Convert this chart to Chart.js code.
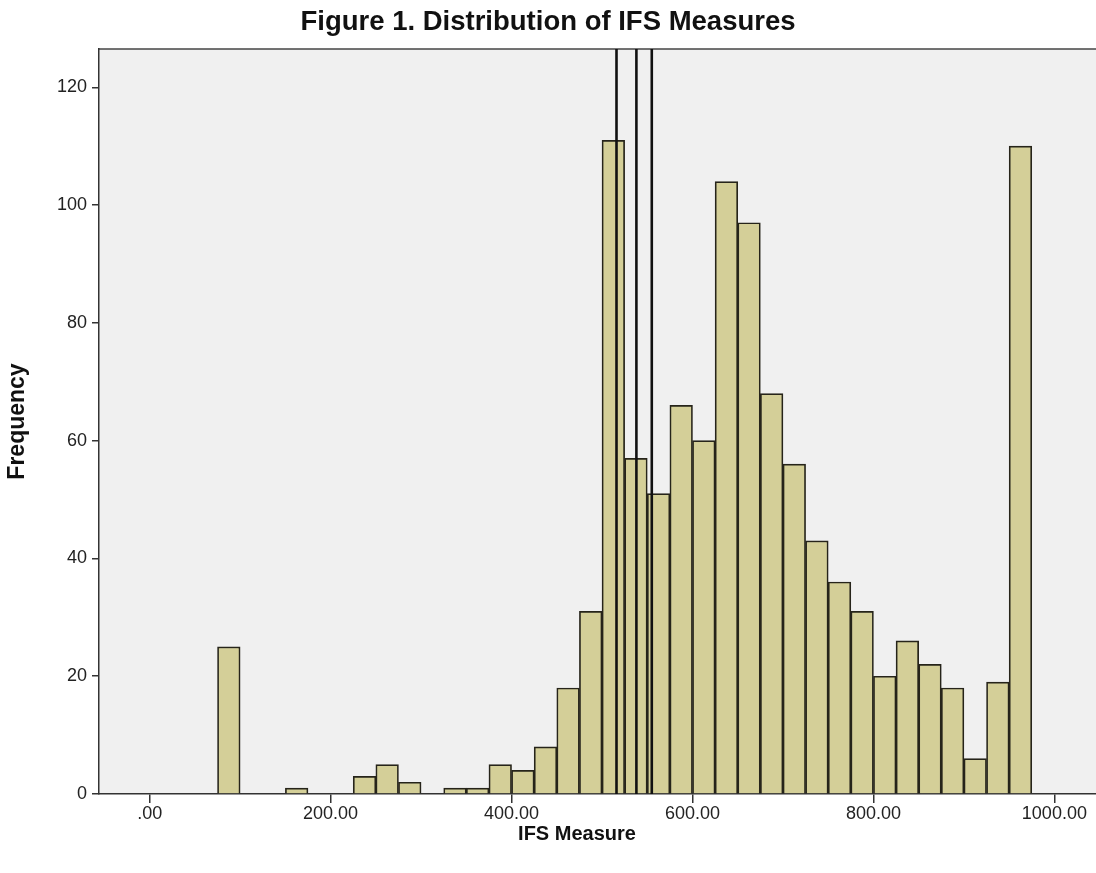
<!DOCTYPE html>
<html>
<head>
<meta charset="utf-8">
<script src="https://cdn.jsdelivr.net/npm/chart.js@4.4.0/dist/chart.umd.min.js"></script>
<style>
  html, body { margin: 0; padding: 0; background: #ffffff; }
  #wrap { width: 1096px; height: 873px; position: relative; }
</style>
</head>
<body>
<div id="wrap"><canvas id="c"></canvas></div>
<script>
// ---- data ----
const binCenters = [87.5, 112.5, 137.5, 162.5, 187.5, 212.5, 237.5, 262.5, 287.5, 312.5,
  337.5, 362.5, 387.5, 412.5, 437.5, 462.5, 487.5, 512.5, 537.5, 562.5,
  587.5, 612.5, 637.5, 662.5, 687.5, 712.5, 737.5, 762.5, 787.5, 812.5,
  837.5, 862.5, 887.5, 912.5, 937.5, 962.5];
const frequencies = [25, 0, 0, 1, 0, 0, 3, 5, 2, 0,
  1, 1, 5, 4, 8, 18, 31, 111, 57, 51,
  66, 60, 104, 97, 68, 56, 43, 36, 31, 20,
  26, 22, 18, 6, 19, 110];
const refLines = [516, 538, 555];
const xTickValues = [0, 200, 400, 600, 800, 1000];
const yTickValues = [0, 20, 40, 60, 80, 100, 120];
const titleText = 'Figure 1. Distribution of IFS Measures';
const xTitle = 'IFS Measure';
const yTitle = 'Frequency';

const FONT = 'Arial, "Liberation Sans", Helvetica, sans-serif';

const bgPlugin = {
  id: 'plotBg',
  beforeDraw(chart) {
    const {ctx, chartArea: a} = chart;
    ctx.save();
    ctx.fillStyle = '#f0f0f0';
    ctx.fillRect(a.left, a.top, a.right - a.left, a.bottom - a.top);
    ctx.strokeStyle = '#444444';
    ctx.lineWidth = 1.5;
    ctx.beginPath();
    ctx.moveTo(a.left, a.top);
    ctx.lineTo(a.right, a.top);
    ctx.stroke();
    ctx.restore();
  },
  afterDatasetsDraw(chart) {
    const {ctx, chartArea: a, scales} = chart;
    ctx.save();
    ctx.strokeStyle = '#111111';
    ctx.lineWidth = 2.6;
    refLines.forEach(v => {
      const px = scales.x.getPixelForValue(v);
      ctx.beginPath();
      ctx.moveTo(px, a.top);
      ctx.lineTo(px, a.bottom);
      ctx.stroke();
    });
    ctx.restore();
  },
  afterDraw(chart) {
    const {ctx} = chart;
    ctx.save();
    ctx.fillStyle = '#111111';
    ctx.font = 'bold 20px ' + FONT;
    ctx.textAlign = 'center';
    ctx.textBaseline = 'middle';
    ctx.fillText(xTitle, 577, 834);
    ctx.restore();
  }
};

new Chart(document.getElementById('c'), {
  type: 'bar',
  data: {
    datasets: [{
      label: 'Frequency',
      data: binCenters.map((x, i) => ({x: x, y: frequencies[i]})),
      backgroundColor: '#d4cf98',
      borderColor: '#26241a',
      borderWidth: 1.7,
      borderSkipped: 'bottom',
      barPercentage: 1,
      categoryPercentage: 1
    }]
  },
  options: {
    responsive: true,
    maintainAspectRatio: false,
    animation: false,
    layout: { padding: 0 },
    plugins: {
      legend: { display: false },
      tooltip: { enabled: false },
      title: {
        display: true,
        text: titleText,
        color: '#111111',
        font: { family: FONT, size: 27.5, weight: 'bold', lineHeight: 1.2 },
        padding: { top: 6, bottom: 10 }
      }
    },
    scales: {
      x: {
        type: 'linear',
        min: -56,
        max: 1046,
        offset: false,
        afterFit(s) { s.height = 79; },
        afterBuildTicks(s) { s.ticks = xTickValues.map(v => ({value: v})); },
        grid: { display: true, drawOnChartArea: false, drawTicks: true, tickLength: 9, color: '#333333', lineWidth: 1.5, offset: false },
        border: { display: true, color: '#333333', width: 1.5 },
        ticks: {
          color: '#222222',
          font: { family: FONT, size: 18 },
          padding: 0,
          maxRotation: 0,
          callback: v => v === 0 ? '.00' : v.toFixed(2)
        },
        title: { display: false }
      },
      y: {
        type: 'linear',
        min: 0,
        max: 126.5,
        afterFit(s) { s.width = 99; },
        afterBuildTicks(s) { s.ticks = yTickValues.map(v => ({value: v})); },
        grid: { display: true, drawOnChartArea: false, drawTicks: true, tickLength: 7, color: '#333333', lineWidth: 1.5 },
        border: { display: true, color: '#333333', width: 1.5 },
        ticks: {
          color: '#222222',
          font: { family: FONT, size: 18 },
          padding: 5
        },
        title: {
          display: true,
          text: yTitle,
          color: '#111111',
          font: { family: FONT, size: 23, weight: 'bold', lineHeight: 1.2 },
          padding: { top: 4, bottom: 0 }
        }
      }
    }
  },
  plugins: [bgPlugin]
});
</script>
</body>
</html>
